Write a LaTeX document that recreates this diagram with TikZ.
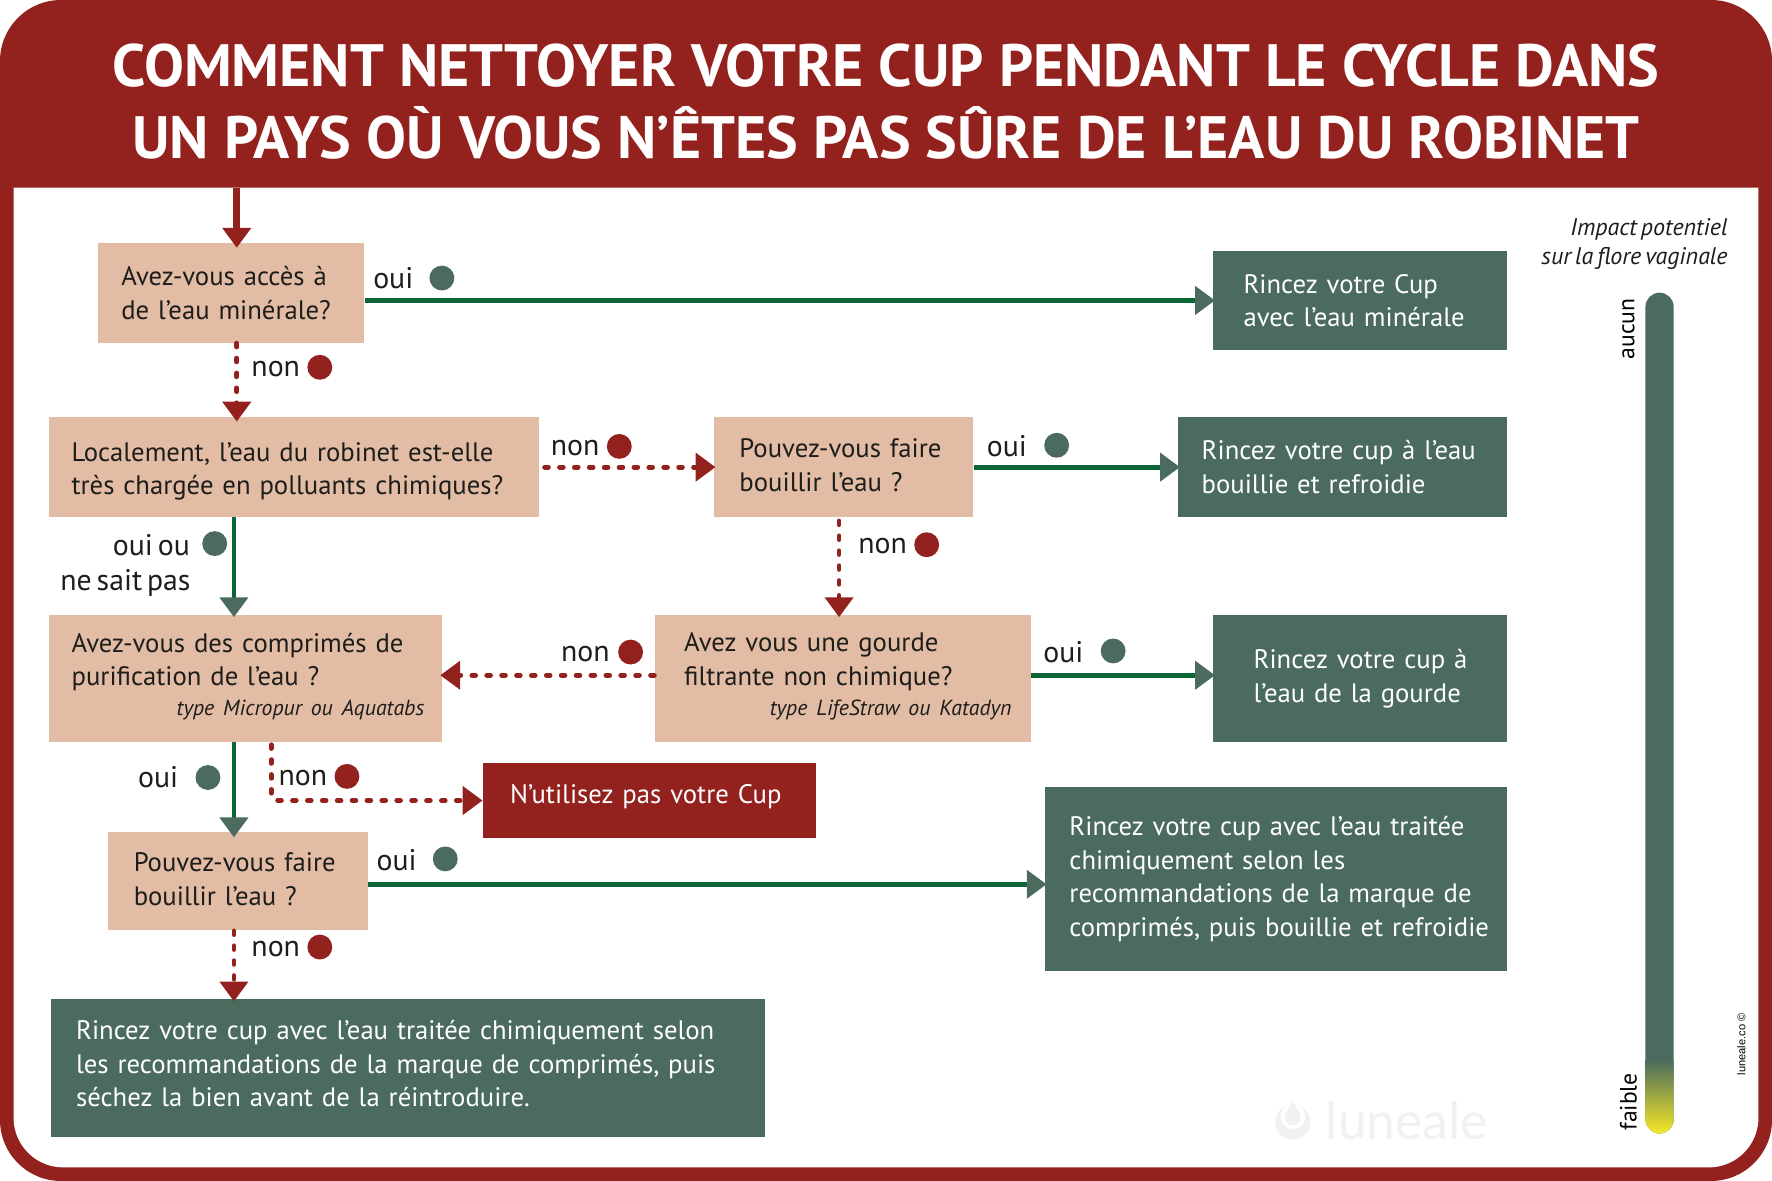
\documentclass[tikz,border=0pt]{standalone}
\usepackage{fontspec}
\setmainfont[WordSpace=0.62]{PT Sans}
\newfontfamily\titlefont{PT Sans}
\newfontfamily\markfont{Lato}
\newfontfamily\creditfont{Liberation Sans}
\usetikzlibrary{arrows.meta}
\definecolor{cupred}{HTML}{93211D}
\definecolor{cupgreen}{HTML}{4A6B5D}
\definecolor{linegreen}{HTML}{0A6636}
\definecolor{peach}{HTML}{E2BCA4}
\definecolor{inkgrey}{HTML}{1D1D1B}
\definecolor{markgrey}{HTML}{F2F1EF}
\definecolor{barend}{HTML}{F7E827}
\def\pxu{0.02cm}
\newcommand\subnotefont{\fontsize{11}{12}\selectfont\itshape}
\newcommand\boxlift[1]{\par\vspace{#1}}
\tikzset{
  boxtext/.style={font=\fontsize{13.45}{16.9}\selectfont},
  flatbox/.style n args={3}{anchor=north west, boxtext, align=left, inner ysep=0pt,
    minimum width=#1*\pxu, minimum height=#2*\pxu, inner xsep=#3*\pxu, text width=(#1-2*#3)*\pxu},
  askbox/.style n args={3}{flatbox={#1}{#2}{#3}, fill=peach, text=inkgrey},
  rinsebox/.style n args={3}{flatbox={#1}{#2}{#3}, fill=cupgreen, text=white},
  stopbox/.style n args={3}{flatbox={#1}{#2}{#3}, fill=cupred, text=white},
  yesline/.style={draw=linegreen, line width=2.4pt, shorten >=-1.2pt,
    -{Triangle[width=14pt, length=10pt, color=cupgreen]}},
  noline/.style={draw=cupred, line width=2.4pt, line cap=round, shorten >=-1.2pt,
    dash pattern=on 1.9pt off 5.6pt, -{Triangle[width=14pt, length=10pt, color=cupred]}},
  answer/.style={font=\fontsize{15}{16.9}\selectfont, text=inkgrey, inner sep=0pt},
  yesdot/.style={circle, fill=cupgreen, inner sep=0pt, minimum size=22*\pxu},
  nodot/.style={circle, fill=cupred, inner sep=0pt, minimum size=22*\pxu},
  scalelabel/.style={rotate=90, text=black, inner sep=0pt, font=\fontsize{11.9}{15}\selectfont}
}
\begin{document}
\begin{tikzpicture}[x=\pxu, y=-\pxu]
    \useasboundingbox (0,0) rectangle (1568,1045);
    \fill[cupred, rounded corners=1.08cm] (0,0) rectangle (1568,1045);
    \fill[white] (12,166) -- (1556,166) [rounded corners=.88cm] -- (1556,1033) -- (12,1033) [sharp corners] -- cycle;

    \node[text=white, align=center, inner sep=0pt, font=\titlefont\fontsize{30.1}{36}\selectfont\bfseries] (titre) at (784,90)
      {COMMENT NETTOYER VOTRE CUP PENDANT LE CYCLE DANS\\UN PAYS OÙ VOUS N’ÊTES PAS SÛRE DE L’EAU DU ROBINET};

    \node[askbox={236}{88}{21}] (mineral) at (86,215) {Avez-vous accès à\\de l’eau minérale?};
    \node[askbox={434}{88}{20}] (robinet) at (43,369) {\rule{0pt}{14pt}Localement, l’eau du robinet est-elle\\très chargée en polluants chimiques?};
    \node[askbox={230}{88}{23}] (bouillir) at (631,369) {Pouvez-vous faire\\bouillir l’eau ?\boxlift{2.2pt}};
    \node[askbox={348}{112}{20}] (comprimes) at (43,544) {Avez-vous des comprimés de\\purification de l’eau ?\\[-2pt]
      \hspace*{\fill}{\subnotefont type Micropur ou Aquatabs}\hspace*{-2.3pt}\boxlift{2.2pt}};
    \node[askbox={333}{112}{26}] (gourde) at (579,544) {Avez vous une gourde\\filtrante non chimique?\\[-2pt]
      \hspace*{\fill}{\subnotefont type LifeStraw ou Katadyn}\hspace*{-5pt}\boxlift{2.2pt}};
    \node[askbox={230}{87}{23}] (bouillirb) at (95,736) {Pouvez-vous faire\\bouillir l’eau ?\boxlift{2.2pt}};

    \node[rinsebox={260}{87}{27}] (rinceminerale) at (1073,222) {Rincez votre Cup\\avec l’eau minérale};
    \node[rinsebox={291}{88}{21}] (rincebouillie) at (1042,369) {Rincez votre cup à l’eau\\bouillie et refroidie};
    \node[rinsebox={260}{112}{36}] (rincegourde) at (1073,544) {\mbox{Rincez votre cup à}\\l’eau de la gourde};
    \node[stopbox={295}{66}{24}] (stopcup) at (427,675) {N’utilisez pas votre Cup\boxlift{3.4pt}};
    \node[rinsebox={409}{163}{22}] (rincetraitee) at (924,696) {Rincez votre cup avec l’eau traitée\\chimiquement selon les\\\mbox{recommandations de la marque de}\\\mbox{comprimés, puis bouillie et refroidie}};
    \node[rinsebox={632}{122}{22}] (sechez) at (45,884) {Rincez votre cup avec l’eau traitée chimiquement selon\\les recommandations de la marque de comprimés, puis\\séchez la bien avant de la réintroduire.\boxlift{4.5pt}};

    \coordinate (entree) at (209.5,166);
    \coordinate (gauche) at (207,0);
    \coordinate (milieu) at (742.5,461);
    \coordinate (ligneb) at (0,597.5);
    \coordinate (lignec) at (0,782.5);
    \coordinate (versstop) at (240,659);

    \draw[line width=3.6pt, draw=cupred, shorten >=-2.4pt, -{Triangle[width=14pt, length=10pt, color=cupred]}] (entree) -- (entree |- mineral.north);
    \draw[noline, shorten >=-2.3pt] (entree |- mineral.south) -- (entree |- robinet.north);
    \draw[yesline] (mineral.east |- rinceminerale.west) -- (rinceminerale.west);
    \draw[noline, shorten <=2.4pt] (robinet.east) -- (bouillir.west);
    \draw[yesline] (bouillir.east) -- (rincebouillie.west);
    \draw[yesline] (gauche |- robinet.south) -- (gauche |- comprimes.north);
    \draw[noline] (milieu) -- (milieu |- gourde.north);
    \draw[noline] (gourde.west |- ligneb) -- (comprimes.east |- ligneb);
    \draw[yesline] (gourde.east |- ligneb) -- (rincegourde.west |- ligneb);
    \draw[yesline, shorten >=-2.8pt] (gauche |- comprimes.south) -- (gauche |- bouillirb.north);
    \draw[noline, rounded corners=3pt, shorten >=0pt] (versstop) |- (stopcup.west);
    \draw[yesline] (bouillirb.east |- lignec) -- (rincetraitee.west |- lignec);
    \draw[noline] (gauche |- bouillirb.south) -- (gauche |- sechez.north);

    \node[answer] (ouia) at (348,246) {oui};
    \node[yesdot] (pointa) at (391,246) {};
    \node[answer] (nona) at (244,326.5) {non};
    \node[nodot] (pointb) at (283,325) {};
    \node[answer] (nonb) at (509,396.5) {non};
    \node[nodot] (pointc) at (548,395) {};
    \node[answer] (ouib) at (891,395) {oui};
    \node[yesdot] (pointd) at (935,394) {};
    \node[answer] (ouic) at (134,482) {oui ou};
    \node[yesdot] (pointe) at (190,481) {};
    \node[answer] (nesait) at (111,515.5) {ne sait pas};
    \node[answer] (nonc) at (781,483.5) {non};
    \node[nodot] (pointf) at (820,482) {};
    \node[answer] (nond) at (518,578.5) {non};
    \node[nodot] (pointg) at (558,577) {};
    \node[answer] (ouid) at (941,577) {oui};
    \node[yesdot] (pointh) at (985,576) {};
    \node[answer] (ouie) at (140,688) {oui};
    \node[yesdot] (pointi) at (184,688) {};
    \node[answer] (none) at (268,688.5) {non};
    \node[nodot] (pointj) at (307,687) {};
    \node[answer] (ouif) at (351,761) {oui};
    \node[yesdot] (pointk) at (394,760) {};
    \node[answer] (nonf) at (244,839.5) {non};
    \node[nodot] (pointl) at (283,838) {};

    \fill[cupgreen, rounded corners=.25cm] (1456,259) rectangle (1481,1003);
    \shade[top color=cupgreen, bottom color=barend] (1456,938) -- (1481,938) [rounded corners=.25cm] -- (1481,1003) -- (1456,1003) [sharp corners] -- cycle;
    \node[scalelabel] (aucun) at (1441,291) {aucun};
    \node[scalelabel] (faible) at (1441,975) {faible};
    \node[align=right, anchor=east, inner sep=0pt, text=inkgrey, font=\fontsize{12.1}{14.8}\selectfont\itshape] (impact) at (1529,216)
      {Impact potentiel\\sur la flore vaginale};
    \node[rotate=90, inner sep=0pt, font=\fontsize{5.6}{6}\selectfont\creditfont] (credit) at (1541,924) {luneale.co ©};

    % filigrane
    \fill[markgrey] (1144,993) circle (15.5);
    \fill[white] (1144,988) circle (11);
    \fill[markgrey] (1144,974) .. controls (1147,981) and (1151,984) .. (1151,989) .. controls (1151,998) and (1137,998) .. (1137,989) .. controls (1137,984) and (1141,981) .. (1144,974) -- cycle;
    \node[text=markgrey, inner sep=0pt, font=\fontsize{26}{30}\selectfont\markfont] (filigrane) at (1245,992) {luneale};
\end{tikzpicture}
\end{document}
